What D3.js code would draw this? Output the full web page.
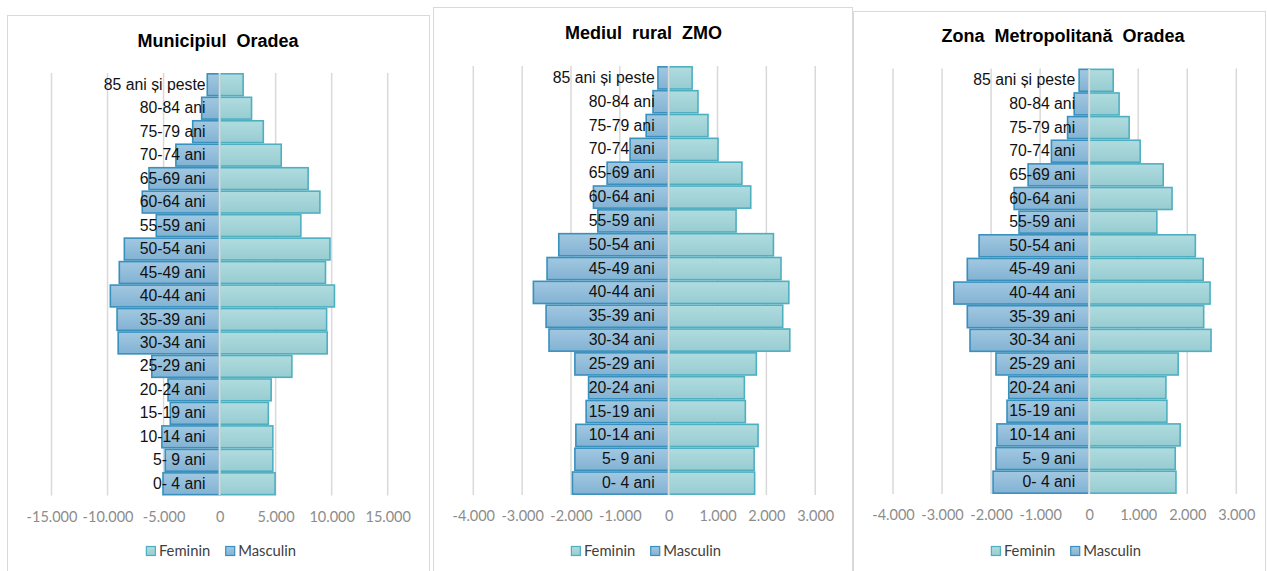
<!DOCTYPE html>
<html>
<head>
<meta charset="utf-8">
<script src="https://cdn.jsdelivr.net/npm/d3@7"></script>
<style>
  body { margin: 0; background: #fff; }
</style>
</head>
<body>
<div id="chart"></div>
<script>
// categories, top of the pyramid first
var ageGroups = ["85 ani și peste", "80-84 ani", "75-79 ani", "70-74 ani", "65-69 ani",
    "60-64 ani", "55-59 ani", "50-54 ani", "45-49 ani", "40-44 ani", "35-39 ani",
    "30-34 ani", "25-29 ani", "20-24 ani", "15-19 ani", "10-14 ani", "5- 9 ani", "0- 4 ani"];

var seriesNames = ["Feminin", "Masculin"];

// Municipiul Oradea
var oradeaMasculin = [-1100, -1600, -2400, -3900, -6300, -6900, -5650, -8500, -8950,
    -9750, -9150, -9050, -6050, -4600, -4400, -5150, -4850, -5050];
var oradeaFeminin = [2100, 2850, 3900, 5500, 7900, 8950, 7250, 9850, 9450,
    10250, 9550, 9600, 6450, 4600, 4350, 4750, 4750, 4950];

// Mediul rural ZMO
var ruralMasculin = [-220, -320, -460, -790, -1260, -1540, -1450, -2250, -2490,
    -2770, -2510, -2450, -1920, -1640, -1690, -1900, -1920, -1970];
var ruralFeminin = [480, 600, 805, 1010, 1500, 1680, 1380, 2145, 2300,
    2460, 2335, 2480, 1795, 1550, 1570, 1830, 1750, 1760];

// Zona Metropolitana Oradea
var zmoMasculin = [-205, -305, -440, -770, -1245, -1530, -1430, -2245, -2485,
    -2760, -2485, -2430, -1900, -1640, -1675, -1880, -1900, -1960];
var zmoFeminin = [490, 610, 815, 1040, 1510, 1690, 1380, 2165, 2325,
    2465, 2335, 2485, 1815, 1565, 1585, 1855, 1755, 1770];

var ticksOradea = [-15000, -10000, -5000, 0, 5000, 10000, 15000];
var ticksZmo = [-4000, -3000, -2000, -1000, 0, 1000, 2000, 3000];

var titles = ["Municipiul  Oradea", "Mediul  rural  ZMO", "Zona  Metropolitană  Oradea"];

// layout of the three panels
var panels = [
    { title: titles[0], m: oradeaMasculin, f: oradeaFeminin, ticks: ticksOradea,
      box: [7.5, 15.5, 429.5], xr: [51.5, 387.7], yr: [73, 495.5], titleX: 218, titleY: 46.5, legendX: 221 },
    { title: titles[1], m: ruralMasculin, f: ruralFeminin, ticks: ticksZmo,
      box: [433.5, 7.5, 852.5], xr: [473.3, 815.2], yr: [66, 495], titleX: 643.5, titleY: 39, legendX: 646 },
    { title: titles[2], m: zmoMasculin, f: zmoFeminin, ticks: ticksZmo,
      box: [853.5, 11.5, 1265.5], xr: [893, 1236.3], yr: [68.5, 494], titleX: 1063, titleY: 41.5, legendX: 1066 }
];

var colors = {
    Feminin: { top: "#b0dcdf", bottom: "#97ccd1", stroke: "#4eafc1" },
    Masculin: { top: "#a2c8e1", bottom: "#82b2d3", stroke: "#3890bd" }
};

var fmt = d3.formatLocale({
    decimal: ",", thousands: ".", grouping: [3], currency: ["", ""], minus: "-"
}).format(",d");

var svg = d3.select("#chart")
    .append("svg")
    .attr("width", 1267)
    .attr("height", 571);

var defs = svg.append("defs");
seriesNames.forEach(function(s) {
    var g = defs.append("linearGradient")
        .attr("id", "grad-" + s)
        .attr("x1", 0).attr("y1", 0).attr("x2", 0).attr("y2", 1);
    g.append("stop").attr("offset", "0%").attr("stop-color", colors[s].top);
    g.append("stop").attr("offset", "100%").attr("stop-color", colors[s].bottom);
});

panels.forEach(function(p) {
    var group = svg.append("g");

    // panel frame
    group.append("rect")
        .attr("x", p.box[0])
        .attr("y", p.box[1])
        .attr("width", p.box[2] - p.box[0])
        .attr("height", 600)
        .attr("fill", "#fff")
        .attr("stroke", "#d9d9d9")
        .attr("stroke-width", 1);

    group.append("text")
        .attr("x", p.titleX)
        .attr("y", p.titleY)
        .attr("text-anchor", "middle")
        .attr("font-family", "'Liberation Sans', Arial, sans-serif")
        .attr("font-weight", "bold")
        .attr("font-size", "18px")
        .attr("fill", "#000")
        .style("white-space", "pre")
        .text(p.title);

    var x = d3.scaleLinear()
        .domain([p.ticks[0], p.ticks[p.ticks.length - 1]])
        .range(p.xr);

    var y = d3.scaleBand()
        .domain(ageGroups)
        .range(p.yr)
        .paddingInner(0.07)
        .paddingOuter(0.035);

    // gridlines
    group.selectAll(".grid")
        .data(p.ticks)
        .enter()
        .append("line")
        .attr("x1", d => x(d))
        .attr("x2", d => x(d))
        .attr("y1", p.yr[0])
        .attr("y2", p.yr[1])
        .attr("stroke", "#d9d9d9")
        .attr("stroke-width", 1.5);

    // Masculin bars (left)
    group.selectAll(".barM")
        .data(p.m)
        .enter()
        .append("rect")
        .attr("x", d => x(d))
        .attr("y", (d, i) => y(ageGroups[i]))
        .attr("width", d => x(0) - x(d))
        .attr("height", y.bandwidth())
        .attr("fill", "url(#grad-Masculin)")
        .attr("stroke", colors.Masculin.stroke)
        .attr("stroke-width", 1.6);

    // Feminin bars (right)
    group.selectAll(".barF")
        .data(p.f)
        .enter()
        .append("rect")
        .attr("x", x(0))
        .attr("y", (d, i) => y(ageGroups[i]))
        .attr("width", d => x(d) - x(0))
        .attr("height", y.bandwidth())
        .attr("fill", "url(#grad-Feminin)")
        .attr("stroke", colors.Feminin.stroke)
        .attr("stroke-width", 1.6);

    // zero line
    group.append("line")
        .attr("x1", x(0)).attr("x2", x(0))
        .attr("y1", p.yr[0]).attr("y2", p.yr[1])
        .attr("stroke", "#dcdcdc")
        .attr("stroke-width", 2);

    // category labels
    var leftAxis = d3.axisLeft(y).tickSize(0).tickPadding(0);
    var yAxisG = group.append("g")
        .attr("transform", `translate(${x(0) - 14}, 0)`)
        .call(leftAxis);
    yAxisG.select(".domain").remove();
    yAxisG.selectAll("text")
        .attr("font-family", "'Liberation Sans', Arial, sans-serif")
        .attr("font-size", "15.8px")
        .attr("fill", "#111")
        .style("white-space", "pre");

    // value axis
    var bottomAxis = d3.axisBottom(x).tickValues(p.ticks).tickFormat(fmt).tickSize(0).tickPadding(0);
    var xAxisG = group.append("g")
        .attr("transform", `translate(0, ${p.yr[1] + 16})`)
        .call(bottomAxis);
    xAxisG.select(".domain").remove();
    xAxisG.selectAll("text")
        .attr("font-family", "Lato, 'Open Sans', sans-serif")
        .attr("font-size", "14.5px")
        .attr("fill", "#8c8c8c");

    // legend
    var legend = group.append("g");
    var cx = 0;
    seriesNames.forEach(function(s, i) {
        var item = legend.append("g").attr("transform", `translate(${cx}, 0)`);
        item.append("rect")
            .attr("x", 0.5).attr("y", -9.5)
            .attr("width", 9).attr("height", 9)
            .attr("fill", `url(#grad-${s})`)
            .attr("stroke", colors[s].stroke)
            .attr("stroke-width", 1.2);
        var t = item.append("text")
            .attr("x", 13)
            .attr("y", 0)
            .attr("font-family", "Lato, 'Open Sans', sans-serif")
            .attr("font-size", "14.8px")
            .attr("fill", "#404040")
            .text(s);
        cx += 13 + t.node().getComputedTextLength() + 15;
    });
    var legendWidth = cx - 15;
    legend.attr("transform", `translate(${p.legendX - legendWidth / 2}, 556)`);
});
</script>
</body>
</html>
